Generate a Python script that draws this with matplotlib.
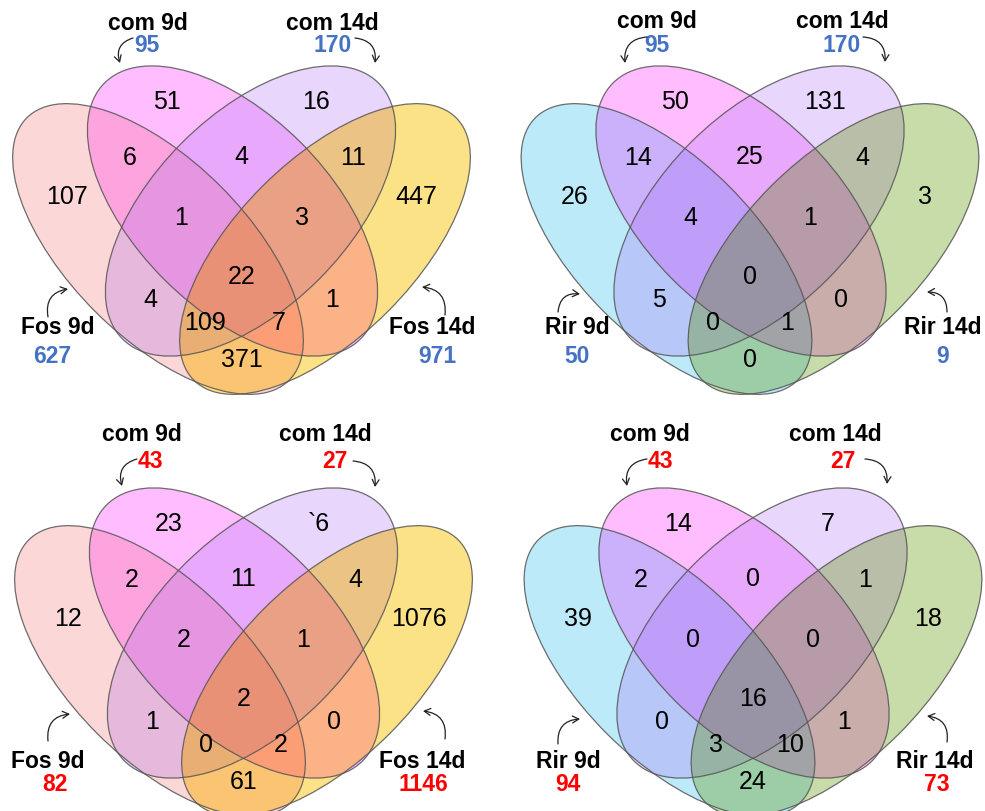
import numpy as np
import matplotlib
matplotlib.use('Agg')
import matplotlib.pyplot as plt
from matplotlib.patches import Ellipse
from matplotlib import font_manager

# ── Data: four 4-set Venn diagrams ──
# region order: A, B, C, D, AB, BC, CD, ABC, BCD, ABCD, AC, BD, ACD, ABD, AD
sets_tl = ['Fos 9d', 'com 9d', 'com 14d', 'Fos 14d']
totals_tl = [627, 95, 170, 971]
regions_tl = [107, 51, 16, 447, 6, 4, 11, 1, 3, 22, 4, 1, 109, 7, 371]

sets_tr = ['Rir 9d', 'com 9d', 'com 14d', 'Rir 14d']
totals_tr = [50, 95, 170, 9]
regions_tr = [26, 50, 131, 3, 14, 25, 4, 4, 1, 0, 5, 0, 0, 1, 0]

sets_bl = ['Fos 9d', 'com 9d', 'com 14d', 'Fos 14d']
totals_bl = [82, 43, 27, 1146]
regions_bl = [12, 23, '`6', 1076, 2, 11, 4, 2, 1, 2, 1, 0, 0, 2, 61]

sets_br = ['Rir 9d', 'com 9d', 'com 14d', 'Rir 14d']
totals_br = [94, 43, 27, 73]
regions_br = [39, 14, 7, 18, 2, 0, 1, 0, 0, 16, 0, 1, 3, 10, 24]

# ── Styles ──
FOS9, COM9, COM14, FOS14 = '#FDD7D7', '#FFBEFF', '#E8D6FC', '#FDE287'
RIR9, RIR14 = '#BEEBFA', '#C8DCAA'
BLUE, RED = '#4472C4', '#FF0000'
MULT_W = 0.6   # overlap colour: mix of multiply and 50% alpha-over blending

# ellipse layout in pixels, relative to panel origin: dx, dy, a, b, angle (y down)
ELLIPSES = [(-83.5, 32, 185.5, 88.6, 45),
            (-9, -6, 181, 96.7, 45),
            (9, -6, 181, 96.7, 135),
            (83.5, 32, 185.5, 88.6, 135)]
REGION_POS = [(-175, -21), (-75, -116), (75, -116), (175, -21),
              (-112, -60), (0, -61), (112, -60),
              (-60, 0), (60, 0), (0, 59),
              (-91, 82), (91, 82), (-37, 105), (37, 105),
              (0, 142)]

try:
    font_manager.findfont(font_manager.FontProperties(family='Liberation Sans Narrow'),
                          fallback_to_default=False)
    NUM_FONT, NUM_SIZE = 'Liberation Sans Narrow', 20
except Exception:
    NUM_FONT, NUM_SIZE = 'Liberation Sans', 18

W, H, SS = 985, 812, 2
fig = plt.figure(figsize=(W / 100, H / 100), dpi=100)
ax = fig.add_axes([0, 0, 1, 1])

# fill layer
ys, xs = np.mgrid[0:H * SS, 0:W * SS]
xs = (xs + 0.5) / SS
ys = (ys + 0.5) / SS
img_mult = np.ones((H * SS, W * SS, 3))
img_over = np.ones((H * SS, W * SS, 3))


def shade(origin, fills):
    ox, oy = origin
    for (dx, dy, a, b, ang), col in zip(ELLIPSES, fills):
        t = np.deg2rad(ang)
        X, Y = xs - (ox + dx), ys - (oy + dy)
        u = X * np.cos(t) + Y * np.sin(t)
        v = -X * np.sin(t) + Y * np.cos(t)
        inside = (u / a) ** 2 + (v / b) ** 2 <= 1
        rgb = np.array(matplotlib.colors.to_rgb(col))
        img_mult[inside] *= rgb
        base = np.clip(2 * rgb - 1, 0, 1)
        img_over[inside] = 0.5 * img_over[inside] + 0.5 * base


def draw_venn(origin, names, totals, regions, num_color, labels, arrows):
    ox, oy = origin
    for (dx, dy, a, b, ang) in ELLIPSES:
        ax.add_patch(Ellipse((ox + dx, oy + dy), 2 * a, 2 * b, angle=ang,
                             facecolor='none', edgecolor='#555555', lw=0.9,
                             alpha=0.85, zorder=2))

    for (dx, dy), val in zip(REGION_POS, regions):
        ax.text(ox + dx, oy + dy, str(val), ha='center', va='center',
                fontsize=NUM_SIZE, family=NUM_FONT, color='black', zorder=3)

    for name, tot, (lx, ly, cx, cy) in zip(names, totals, labels):
        ax.text(lx, ly, name, ha='center', va='center', fontsize=16.5,
                fontweight='bold', family='Liberation Sans', color='black', zorder=3)
        ax.text(cx, cy, str(tot), ha='center', va='center', fontsize=16.5,
                fontweight='bold', family='Liberation Sans', color=num_color, zorder=3)

    for (sx, sy, ex, ey, rad) in arrows:
        ax.annotate('', xy=(ex, ey), xytext=(sx, sy), zorder=3,
                    arrowprops=dict(arrowstyle='->,head_length=0.45,head_width=0.25',
                                    lw=0.9, color='#222222',
                                    connectionstyle=f'arc3,rad={rad}',
                                    shrinkA=0, shrinkB=0))


ORIGINS = [(241.5, 218), (750, 218), (243.5, 640), (753, 640)]
shade(ORIGINS[0], [FOS9, COM9, COM14, FOS14])
shade(ORIGINS[1], [RIR9, COM9, COM14, RIR14])
shade(ORIGINS[2], [FOS9, COM9, COM14, FOS14])
shade(ORIGINS[3], [RIR9, COM9, COM14, RIR14])
fill_img = MULT_W * img_mult + (1 - MULT_W) * img_over
ax.imshow(fill_img, extent=(0, W, H, 0), interpolation='antialiased', zorder=0)

# label positions: (name x, name y, count x, count y) in pixels, order A, B, C, D
draw_venn(ORIGINS[0], sets_tl, totals_tl, regions_tl, BLUE,
          [(58, 328, 52, 357), (148, 23, 147, 45), (332, 23, 333, 45), (432, 328, 437, 357)],
          [(48, 318, 68, 290, -0.5), (133, 39, 120, 64, 0.5),
           (355, 39, 375, 64, -0.5), (445, 316, 422, 288, 0.5)])

draw_venn(ORIGINS[1], sets_tr, totals_tr, regions_tr, BLUE,
          [(577, 328, 577, 357), (657, 22, 657, 45), (842, 22, 842, 45), (943, 328, 943, 357)],
          [(558, 313, 580, 295, -0.5), (647, 38, 625, 64, 0.5),
           (863, 38, 885, 63, -0.5), (947, 313, 927, 293, 0.5)])

draw_venn(ORIGINS[2], sets_bl, totals_bl, regions_bl, RED,
          [(48, 762, 55, 785), (142, 435, 150, 462), (325, 435, 335, 462), (422, 762, 423, 785)],
          [(48, 742, 70, 715, -0.5), (137, 460, 122, 487, 0.5),
           (353, 462, 375, 488, -0.5), (445, 740, 423, 712, 0.5)])

draw_venn(ORIGINS[3], sets_br, totals_br, regions_br, RED,
          [(568, 762, 568, 785), (650, 435, 660, 462), (835, 435, 843, 462), (935, 762, 937, 785)],
          [(558, 745, 580, 720, -0.5), (647, 460, 627, 487, 0.5),
           (865, 460, 887, 485, -0.5), (947, 743, 927, 717, 0.5)])

ax.set_aspect('auto')
ax.set_xlim(0, W)
ax.set_ylim(H, 0)
ax.axis('off')

fig.savefig('out.png', dpi=100, facecolor='white')
